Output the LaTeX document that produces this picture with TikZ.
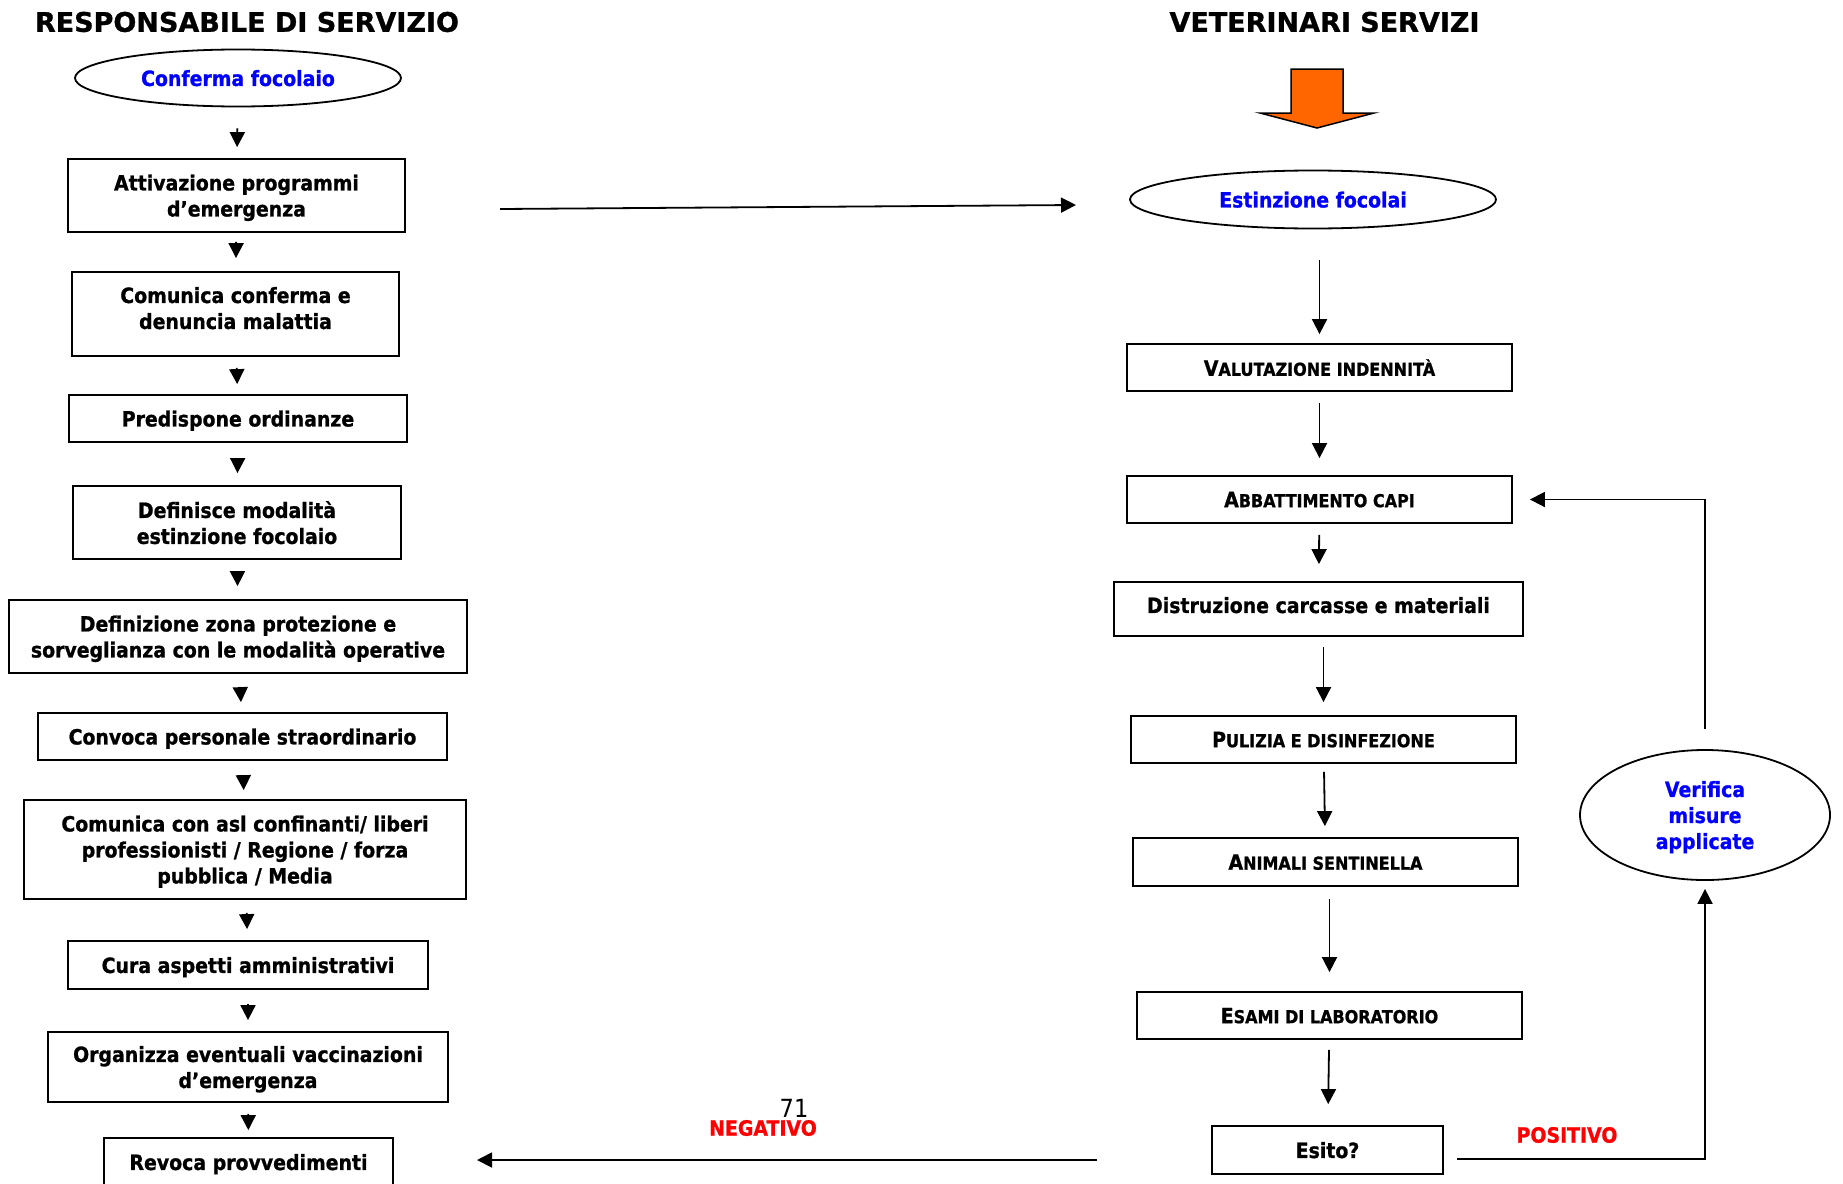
\documentclass[tikz,border=0pt]{standalone}
\usepackage{fontspec}
\setmainfont{DejaVu Sans}[FakeStretch=0.9,BoldFeatures={FakeBold=1}]
\newfontfamily\titlefont{DejaVu Sans}[BoldFeatures={FakeBold=1}]
\usepackage{tikz}
\usepackage{xcolor}
\usetikzlibrary{shapes.geometric,arrows.meta}
\definecolor{fireorange}{RGB}{255,102,0}
\newcommand{\smc}[2]{#1{\fontsize{17.8}{21}\selectfont #2}}

\begin{document}
\begin{tikzpicture}[x=1pt,y=-1pt,line width=1.8pt,
  box/.style={draw,rectangle,minimum height=47pt,inner sep=2pt,align=center,text depth=0pt,font=\fontsize{21}{26}\selectfont\bfseries},
  oval/.style={draw,ellipse,inner sep=0pt,align=center,text depth=0pt,text=blue,font=\fontsize{21}{26}\selectfont\bfseries},
  head/.style={font=\titlefont\fontsize{27}{32}\selectfont\bfseries},
  lab/.style={text=red,font=\fontsize{21}{26}\selectfont\bfseries},
  arr/.style={-{Triangle[length=15pt,width=15pt]}}]
          \useasboundingbox (0,0) rectangle (1843,1183);

          \node[head] (t_resp) at (247,22) {RESPONSABILE DI SERVIZIO};
          \node[head] (t_vet) at (1324.5,22) {VETERINARI SERVIZI};

          \node[oval,minimum width=326pt,minimum height=57pt] (conf) at (238,78) {Conferma focolaio};
          \node[box,minimum width=337pt,minimum height=73pt] (att) at (236.5,195.5) {Attivazione programmi\\d’emergenza};
          \node[box,minimum width=327pt,minimum height=84pt,text depth=12pt] (com) at (235.5,314) {Comunica conferma e\\denuncia malattia};
          \node[box,minimum width=338pt] (pred) at (238,418.5) {Predispone ordinanze};
          \node[box,minimum width=328pt,minimum height=73pt] (def) at (237,522.5) {Definisce modalità\\estinzione focolaio};
          \node[box,minimum width=458pt,minimum height=73pt] (zona) at (238,636.5) {Definizione zona protezione e\\sorveglianza con le modalità operative};
          \node[box,minimum width=409pt] (conv) at (242.5,736.5) {Convoca personale straordinario};
          \node[box,minimum width=442pt,minimum height=99pt] (asl) at (245,849.5) {Comunica con asl confinanti/ liberi\\professionisti / Regione / forza\\pubblica / Media};
          \node[box,minimum width=360pt,minimum height=48pt] (cura) at (248,965) {Cura aspetti amministrativi};
          \node[box,minimum width=400pt,minimum height=70pt] (org) at (248,1067) {Organizza eventuali vaccinazioni\\d’emergenza};
          \node[box,minimum width=289pt,minimum height=48pt] (rev) at (248.5,1162) {Revoca provvedimenti};

          \draw[fill=fireorange,line width=1.5pt] (1291,69) -- (1343,69) -- (1343,113) -- (1374,113) -- (1317,128) -- (1260,113) -- (1291,113) -- cycle;

          \node[oval,minimum width=366pt,minimum height=58pt] (est) at (1313,199.5) {Estinzione focolai};
          \node[box,minimum width=385pt] (val) at (1319.5,367.5) {\smc{V}{ALUTAZIONE INDENNITÀ}};
          \node[box,minimum width=385pt] (abb) at (1319.5,499.5) {\smc{A}{BBATTIMENTO CAPI}};
          \node[box,minimum width=409pt,minimum height=54pt,text depth=8pt] (dis) at (1318.5,609) {Distruzione carcasse e materiali};
          \node[box,minimum width=385pt] (pul) at (1323.5,739.5) {\smc{P}{ULIZIA E DISINFEZIONE}};
          \node[box,minimum width=385pt,minimum height=48pt] (ani) at (1325.5,862) {\smc{A}{NIMALI SENTINELLA}};
          \node[box,minimum width=385pt] (esa) at (1329.5,1015.5) {\smc{E}{SAMI DI LABORATORIO}};
          \node[box,minimum width=231pt,minimum height=48pt] (esi) at (1327.5,1150) {Esito?};
          \node[oval,minimum width=250pt,minimum height=130pt] (ver) at (1705,815) {Verifica\\misure\\applicate};

          \node[lab] (pos) at (1567,1135) {POSITIVO};
          \node[lab] (neg) at (763,1128) {NEGATIVO};
          \node[font=\fontsize{25}{30}\selectfont] (pag) at (794,1108) {71};

          \coordinate (att_out) at (500,209);
          \coordinate (est_in) at (1076,205);
          \coordinate (neg_out) at (1097,1160);
          \coordinate (rev_in) at (477,1160);

          \draw[arr,shorten <=21pt,shorten >=11pt] (conf) -- (att);
          \draw[arr,shorten <=9pt,shorten >=13pt] (att) -- (com);
          \draw[arr,shorten <=11pt,shorten >=10pt] (com) -- (pred);
          \draw[arr,shorten <=16pt,shorten >=12pt] (pred) -- (def);
          \draw[arr,shorten <=12pt,shorten >=13pt] (def) -- (zona);
          \draw[arr,shorten <=13pt,shorten >=10pt] (zona) -- (conv);
          \draw[arr,shorten <=15pt,shorten >=9pt] (conv) -- (asl);
          \draw[arr,shorten <=13pt,shorten >=11pt] (asl) -- (cura);
          \draw[arr,shorten <=14pt,shorten >=11pt] (cura) -- (org);
          \draw[arr,shorten <=11pt,shorten >=7pt] (org) -- (rev);

          \draw[arr] (att_out) -- (est_in);

          \draw[arr,shorten <=31pt,shorten >=9pt] (est.south -| val) -- (val.north);
          \draw[arr,shorten <=11pt,shorten >=17pt] (val) -- (abb);
          \draw[arr,shorten <=11pt,shorten >=17pt] (abb) -- (dis);
          \draw[arr,shorten <=10pt,shorten >=13pt] (dis.south -| pul) -- (pul.north);
          \draw[arr,shorten <=8pt,shorten >=11pt] (pul) -- (ani);
          \draw[arr,shorten <=12pt,shorten >=19pt] (ani.south -| esa) -- (esa.north);
          \draw[arr,shorten <=10pt,shorten >=21pt] (esa) -- (esi);

          \draw[arr,shorten >=8pt] ([xshift=13pt,yshift=-9pt]esi.east) -| (ver.south);
          \draw[arr,shorten >=17pt] ([yshift=20pt]ver.north) |- (abb.east);
          \draw[arr] (neg_out) -- (rev_in);
        \end{tikzpicture}
\end{document}
